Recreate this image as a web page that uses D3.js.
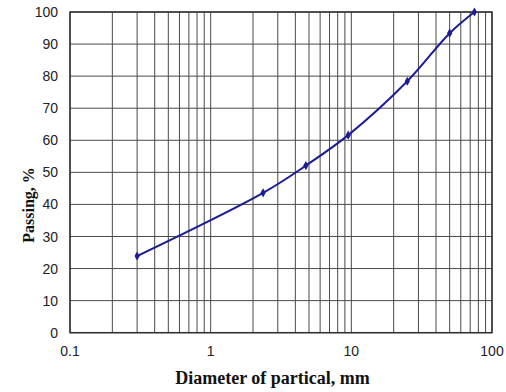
<!DOCTYPE html>
<html><head><meta charset="utf-8">
<script src="https://cdn.jsdelivr.net/npm/d3@7"></script>
<style>body{margin:0;background:#fff}</style>
</head><body>
<svg id="c" width="506" height="392"></svg>
<script>
const diameters = [0.3, 2.36, 4.75, 9.5, 25, 50, 75];
const passing = [23.9, 43.6, 52.1, 61.6, 78.4, 93.4, 100];
const xTicks = [0.1, 1, 10, 100];
const yTicks = [0, 10, 20, 30, 40, 50, 60, 70, 80, 90, 100];
const xTitle = "Diameter of partical, mm";
const yTitle = "Passing, %";

const svg = d3.select("#c");
const L = 70, R = 492, T = 12, B = 332.7;
const x = d3.scaleLog().domain([0.1, 100]).range([L, R]);
const y = d3.scaleLinear().domain([0, 100]).range([B, T]);

const vgrid = [];
for (let d = 0.1; d < 100; d *= 10) for (let k = 1; k <= 9; k++) vgrid.push(+(d * k).toPrecision(3));
vgrid.push(100);
svg.append("g").selectAll("line").data(vgrid).join("line")
  .attr("x1", d => x(d)).attr("x2", d => x(d)).attr("y1", T).attr("y2", B)
  .attr("stroke", "#4a4a4a").attr("stroke-width", 1);
svg.append("g").selectAll("line").data(yTicks).join("line")
  .attr("x1", L).attr("x2", R).attr("y1", d => y(d)).attr("y2", d => y(d))
  .attr("stroke", "#4a4a4a").attr("stroke-width", 1);
svg.append("rect").attr("x", L).attr("y", T).attr("width", R - L).attr("height", B - T)
  .attr("fill", "none").attr("stroke", "#333").attr("stroke-width", 1.5);

svg.append("g").selectAll("text").data(yTicks).join("text")
  .attr("x", 58).attr("y", d => y(d)).attr("dy", "0.36em").attr("text-anchor", "end")
  .attr("font-family", "Liberation Sans, Arial, sans-serif").attr("font-size", 14).attr("fill", "#222")
  .text(d => d);
svg.append("g").selectAll("text").data(xTicks).join("text")
  .attr("x", d => x(d)).attr("y", 356).attr("text-anchor", "middle")
  .attr("font-family", "Liberation Sans, Arial, sans-serif").attr("font-size", 14).attr("fill", "#222")
  .text(d => d);

svg.append("text").attr("x", 272.5).attr("y", 384).attr("text-anchor", "middle")
  .attr("font-family", "Liberation Serif, Times New Roman, serif").attr("font-weight", "bold")
  .attr("font-size", 18).attr("fill", "#111").text(xTitle);
svg.append("text").attr("transform", "translate(33.5,205) rotate(-90)").attr("text-anchor", "middle")
  .attr("font-family", "Liberation Serif, Times New Roman, serif").attr("font-weight", "bold")
  .attr("font-size", 16).attr("fill", "#111").text(yTitle);

const pts = diameters.map((d, i) => [d, passing[i]]);
const line = d3.line().x(d => x(d[0])).y(d => y(d[1])).curve(d3.curveCatmullRom.alpha(0.5));
svg.append("path").datum(pts).attr("d", line).attr("fill", "none")
  .attr("stroke", "#1c1c96").attr("stroke-width", 2);
svg.append("g").selectAll("path").data(pts).join("path")
  .attr("transform", d => `translate(${x(d[0])},${y(d[1])})`)
  .attr("d", d3.symbol(d3.symbolDiamond, 24)).attr("fill", "#1c1c96");
</script>
</body></html>
